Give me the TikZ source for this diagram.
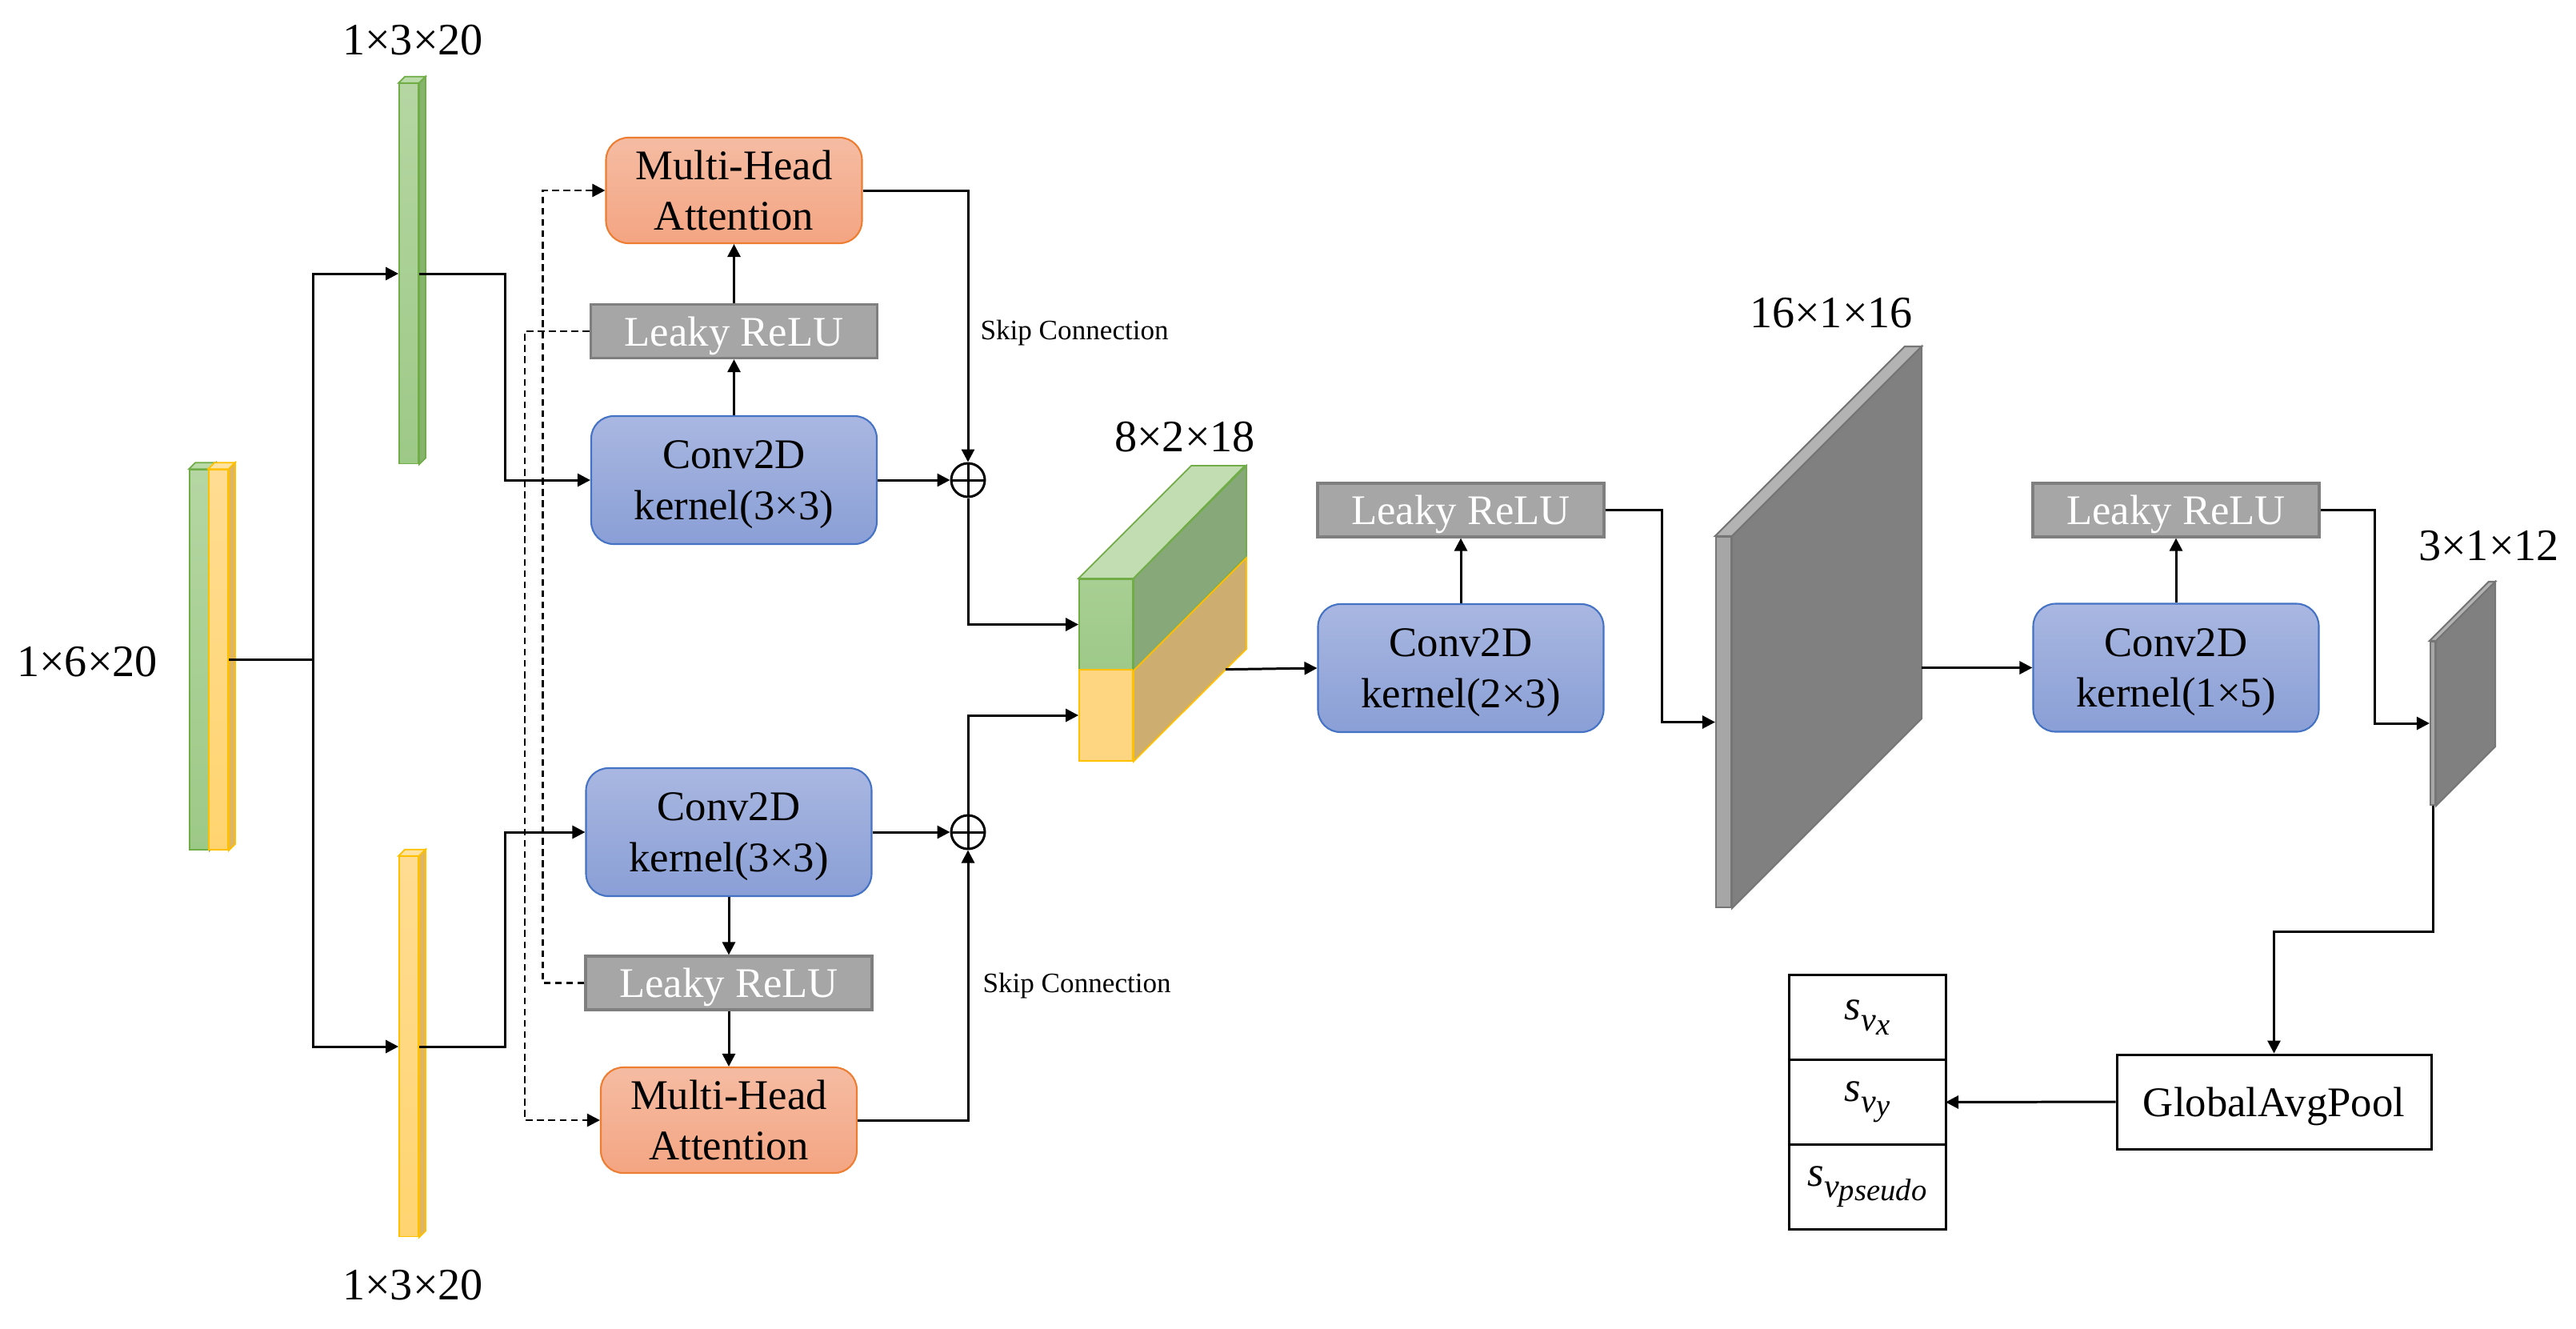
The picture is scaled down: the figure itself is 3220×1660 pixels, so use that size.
\documentclass[tikz,border=0pt]{standalone}
\usepackage{fontspec}
\setmainfont{Liberation Serif}
\usetikzlibrary{arrows.meta,positioning}
\newcommand{\svsub}[1]{\textit{s}\raisebox{-4pt}{\fontsize{12}{12}\selectfont\textit{v}\raisebox{-1.2pt}{\fontsize{11}{11}\selectfont\textit{#1}}}}
\definecolor{convtop}{HTML}{A9B7E1}\definecolor{convbot}{HTML}{8A9FD6}\definecolor{convline}{HTML}{4472C4}
\definecolor{mhatop}{HTML}{F5BCA3}\definecolor{mhabot}{HTML}{F4A582}\definecolor{mhaline}{HTML}{ED7D31}
\definecolor{lrfill}{HTML}{A6A6A6}\definecolor{lrline}{HTML}{7F7F7F}
\definecolor{ftg}{HTML}{B5D6A2}\definecolor{fbg}{HTML}{9DC987}\definecolor{lineg}{HTML}{70AD47}\definecolor{topg}{HTML}{BADAA8}\definecolor{sideg}{HTML}{86B36D}
\definecolor{fty}{HTML}{FFDC92}\definecolor{fby}{HTML}{FFD470}\definecolor{liney}{HTML}{FFC000}\definecolor{topy}{HTML}{FFE3A3}\definecolor{sidey}{HTML}{DDB565}
\definecolor{cubetop}{HTML}{C3DDB2}\definecolor{cubegt}{HTML}{A8CF93}\definecolor{cubegb}{HTML}{9DC989}\definecolor{cubegs}{HTML}{87A878}\definecolor{cubeys}{HTML}{CEAD70}\definecolor{cubeyf}{HTML}{FED580}
\definecolor{platefront}{HTML}{A6A6A6}\definecolor{platetop}{HTML}{B3B3B3}\definecolor{plateside}{HTML}{808080}\definecolor{plateline}{HTML}{767676}
\tikzset{
  txt/.style={font=\fontsize{15}{18}\selectfont},
  dim/.style={font=\fontsize{16}{19}\selectfont,inner sep=0pt},
  skip/.style={font=\fontsize{10}{12}\selectfont,inner sep=0pt,anchor=west},
  conv/.style={txt,draw=convline,line width=0.6pt,rounded corners=2.8mm,top color=convtop,bottom color=convbot,minimum width=35.7mm,minimum height=16mm,align=center,inner sep=0pt,text depth=0pt},
  mha/.style={txt,draw=mhaline,line width=0.6pt,rounded corners=2.8mm,top color=mhatop,bottom color=mhabot,minimum width=32mm,minimum height=13.2mm,align=center,inner sep=0pt,text depth=0pt},
  lrelu/.style={txt,draw=lrline,line width=0.9pt,fill=lrfill,text=white,minimum width=35.8mm,minimum height=6.7mm,inner sep=0pt,text depth=0pt},
  plus/.style={circle,draw,line width=0.85pt,minimum size=4.2mm,inner sep=0pt,path picture={\draw[line width=0.85pt] (path picture bounding box.north)--(path picture bounding box.south) (path picture bounding box.west)--(path picture bounding box.east);}},
  bar/.style={minimum width=2.4mm,minimum height=47.5mm,inner sep=0pt,line width=0.5pt},
  cube/.style={minimum width=6.7mm,minimum height=11.35mm,inner sep=0pt,line width=0.5pt},
  plate/.style={draw=plateline,fill=platefront,inner sep=0pt,line width=0.6pt},
  box/.style={txt,draw,line width=0.85pt,minimum width=39.3mm,minimum height=11.8mm,text depth=0pt},
  cell/.style={txt,draw,line width=0.85pt,minimum width=19.6mm,minimum height=10.6mm,outer sep=0pt,inner sep=0pt},
  dashline/.style={line width=0.7pt,dash pattern=on 2.4pt off 1.6pt}
}
\begin{document}
\begin{tikzpicture}[x=0.1mm,y=-0.1mm,>={Triangle[length=1.6mm,width=1.6mm]},line width=0.85pt]
\useasboundingbox (0,0) rectangle (3220,1660);
\foreach \b/\c/\px/\py in {ing/g/249/824.5,iny/y/273/824.5,g1/g/511/342,y1/y/511/1308}{
\node[bar,draw=line\c,top color=ft\c,bottom color=fb\c] (\b) at (\px,\py) {};
\filldraw[draw=line\c,fill=top\c,line width=0.5pt] (\b.north west)--([shift={(8,-8)}]\b.north west)--([shift={(8,-8)}]\b.north east)--(\b.north east)--cycle;
\filldraw[draw=line\c,fill=side\c,line width=0.5pt] (\b.north east)--([shift={(8,-8)}]\b.north east)--([shift={(8,-8)}]\b.south east)--(\b.south east)--cycle;}
\node[dim] (lg1) at (516,50) {1×3×20};\node[dim] (ly1) at (516,1606) {1×3×20};\node[dim] (lin) at (109,827) {1×6×20};
\node[mha] (mhaT) at (917.5,238) {Multi-Head\\Attention};
\node[lrelu] (lrT) at (917.5,414) {Leaky ReLU};
\node[conv] (convT) at (917.5,600) {Conv2D\\kernel(3×3)};
\node[conv] (convB) at (911,1040) {Conv2D\\kernel(3×3)};
\node[lrelu] (lrB) at (911,1228.5) {Leaky ReLU};
\node[mha] (mhaB) at (911,1400) {Multi-Head\\Attention};
\node[plus] (pT) at (1210,600) {};\node[plus] (pB) at (1210,1040) {};
\node[skip] (skT) at (1224,416) {Skip Connection};\node[skip] (skB) at (1227,1232) {Skip Connection};
\node[cube,draw=lineg,top color=cubegt,bottom color=cubegb] (cg) at (1382.5,780.5) {};
\node[cube,draw=liney,fill=cubeyf] (cy) at (1382.5,894) {};
\filldraw[draw=lineg,fill=cubetop,line width=0.5pt] (cg.north west)--++(141,-141)--++(67,0)--(cg.north east)--cycle;
\filldraw[draw=lineg,fill=cubegs,line width=0.5pt] (cg.north east)--++(141,-141)--++(0,114)--(cg.south east)--cycle;
\filldraw[draw=liney,fill=cubeys,line width=0.5pt] (cg.south east)--++(141,-141)--++(0,114)--(cy.south east)--cycle;
\node[dim] (lcube) at (1481,546) {8×2×18};
\node[conv] (c23) at (1826,835) {Conv2D\\kernel(2×3)};
\node[lrelu] (lrM) at (1826,637.5) {Leaky ReLU};
\foreach \p/\d/\px/\py/\w/\h in {pb/237/2154.5/902.5/1.9/46.3,ps/74/3041/904/0.6/20.4}{
\node[plate,minimum width=\w mm,minimum height=\h mm] (\p) at (\px,\py) {};
\filldraw[draw=plateline,fill=platetop,line width=0.6pt] (\p.north west)--([shift={(\d,-\d)}]\p.north west)--([shift={(\d,-\d)}]\p.north east)--(\p.north east)--cycle;
\filldraw[draw=plateline,fill=plateside,line width=0.6pt] (\p.north east)--([shift={(\d,-\d)}]\p.north east)--([shift={(\d,-\d)}]\p.south east)--(\p.south east)--cycle;}
\coordinate (pbb) at ([shift={(237,-237)}]pb.south east);\coordinate (cbo) at ([shift={(115,-115)}]cy.south east);
\node[dim] (lpb) at (2289,391) {16×1×16};\node[dim] (lps) at (3111,682) {3×1×12};
\node[conv] (c15) at (2720,834.5) {Conv2D\\kernel(1×5)};
\node[lrelu] (lrR) at (2720,637.5) {Leaky ReLU};
\node[box] (gap) at (2842.5,1377) {GlobalAvgPool};
\node[cell] (o1) at (2334,1271.5) {\svsub{x}};\node[cell,below=0pt of o1] (o2) {\svsub{y}};\node[cell,below=0pt of o2] (o3) {\svsub{pseudo}};
\draw[->] (iny.east)--++(106,0)|-(g1.west);\draw[->] (iny.east)--++(106,0)|-(y1.west);
\draw[->] (g1.east)--++(108,0)|-(convT.west);\draw[->] (y1.east)--++(108,0)|-(convB.west);
\draw[->] (convT)--(lrT);\draw[->] (lrT)--(mhaT);\draw[->] (convB)--(lrB);\draw[->] (lrB)--(mhaB);
\draw[dashline,->] (lrT.west)--++(-81,0)|-(mhaB.west);\draw[dashline,->] (lrB.west)--++(-52,0)|-(mhaT.west);
\draw[->] (mhaT.east)-|(pT.north);\draw[->] (convT.east)--(pT.west);\draw[->] (pT.south)|-(cg.west);
\draw[->] (mhaB.east)-|(pB.south);\draw[->] (convB.east)--(pB.west);\draw[->] (pB.north)|-(cy.west);
\draw[->] (cbo)--(c23.west);\draw[->] (c23)--(lrM);\draw[->] (lrM.east)--++(71,0)|-(pb.west);
\draw[->] (pbb|-c15.west)--(c15.west);\draw[->] (c15)--(lrR);\draw[->] (lrR.east)--++(68,0)|-(ps.west);
\draw[->] (ps.south)--++(0,157)-|(gap.north);\draw[->] (gap.west)--(o2.east);
\end{tikzpicture}
\end{document}
